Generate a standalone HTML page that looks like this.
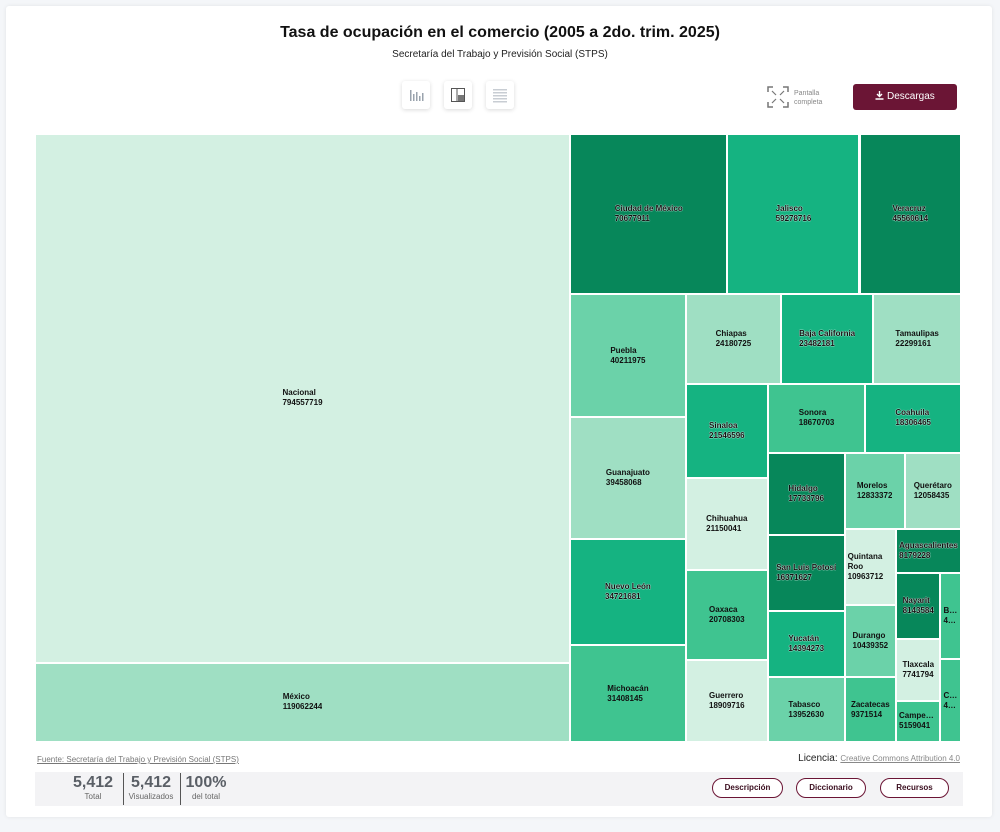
<!DOCTYPE html>
<html><head><meta charset="utf-8">
<style>
body{margin:0;width:1000px;height:832px;background:#f4f6f9;font-family:"Liberation Sans",sans-serif;overflow:hidden;position:relative}
.card{position:absolute;left:6px;top:6px;width:986px;height:811px;background:#fff;box-shadow:0 0 4px rgba(0,0,0,.08);border-radius:3px}
.abs{position:absolute}
.title{left:0;width:1000px;top:24px;text-align:center;font-weight:bold;font-size:16px;color:#111}
.sub{left:0;width:1000px;top:49px;text-align:center;font-size:10px;color:#222}
.ib{width:28px;height:28px;top:81px;background:#fff;box-shadow:0 1px 4px rgba(0,0,0,.15);border-radius:3px}
.dl{left:853px;top:84px;width:104px;height:26px;background:#6b1535;border-radius:3px;color:#fff;font-size:10px;text-align:center;line-height:26px}
#tm{position:absolute;left:35px;top:134px;width:926px;height:608px}
.cell{position:absolute;box-sizing:border-box;border:0.5px solid #fff;display:flex;align-items:center;justify-content:center;overflow:hidden}
.lbl{font-weight:bold;font-size:8px;line-height:10px;color:#111;text-align:left}
.lbl div{overflow:hidden;text-overflow:ellipsis}
.out{text-shadow:0 0 1px #fff,0 0 1px #fff}
.src{left:37px;top:755px;font-size:8px;color:#777;text-decoration:underline}
.lic{right:40px;top:753px;font-size:10px;color:#222}
.lic span{font-size:8px;color:#888;text-decoration:underline}
.bar{left:35px;top:772px;width:928px;height:34px;background:#f3f3f5}
.num{font-weight:bold;font-size:16px;color:#5a5f66;text-align:center}
.cap{font-size:8px;color:#666;text-align:center}
.pill{top:778px;height:20px;border:1px solid #6b1535;border-radius:10px;box-sizing:border-box;font-size:8px;font-weight:bold;color:#3a0d1e;text-align:center;line-height:18px;background:#fff}
</style></head>
<body>
<div class="card"></div>
<div class="abs title">Tasa de ocupación en el comercio (2005 a 2do. trim. 2025)</div>
<div class="abs sub">Secretaría del Trabajo y Previsión Social (STPS)</div>
<div class="abs ib" style="left:402px">
<svg width="28" height="28"><g fill="#9aa3ad"><rect x="8" y="9" width="1.5" height="11"/><rect x="11" y="13" width="1.5" height="7"/><rect x="14" y="11" width="1.5" height="9"/><rect x="17" y="15" width="1.5" height="5"/><rect x="20" y="12" width="1.5" height="8"/></g></svg></div>
<div class="abs ib" style="left:444px">
<svg width="28" height="28"><rect x="7.5" y="7.5" width="13" height="13" fill="none" stroke="#555"/><line x1="13" y1="7.5" x2="13" y2="20.5" stroke="#555"/><rect x="14" y="14" width="6" height="6" fill="#777"/></svg></div>
<div class="abs ib" style="left:486px">
<svg width="28" height="28"><g fill="#c8cdd3"><rect x="7" y="8" width="14" height="1.5"/><rect x="7" y="11" width="14" height="1.5"/><rect x="7" y="14" width="14" height="1.5"/><rect x="7" y="17" width="14" height="1.5"/><rect x="7" y="20" width="14" height="1.5"/></g></svg></div>
<div class="abs" style="left:767px;top:86px">
<svg width="22" height="22" fill="none" stroke="#777" stroke-width="1.5"><path d="M1 6V1h5M16 1h5v5M21 16v5h-5M6 21H1v-5"/><path d="M5 5l4 4M17 5l-4 4M5 17l4-4M17 17l-4-4" stroke-width="1.2"/></svg></div>
<div class="abs" style="left:794px;top:89px;font-size:7px;line-height:9px;color:#888">Pantalla<br>completa</div>
<div class="abs dl"><svg width="9" height="9" style="vertical-align:-1px"><path d="M4.5 0v5M2 3l2.5 2.5L7 3M0.5 8h8" stroke="#fff" stroke-width="1.4" fill="none"/></svg> Descargas</div>

<div id="tm"></div>

<div class="abs src">Fuente: Secretaría del Trabajo y Previsión Social (STPS)</div>
<div class="abs lic">Licencia: <span>Creative Commons Attribution 4.0</span></div>
<div class="abs bar"></div>
<div class="abs" style="left:66px;top:774px;width:54px"><div class="num">5,412</div><div class="cap">Total</div></div>
<div class="abs" style="left:123px;top:773px;width:1px;height:32px;background:#555"></div>
<div class="abs" style="left:124px;top:774px;width:54px"><div class="num">5,412</div><div class="cap">Visualizados</div></div>
<div class="abs" style="left:180px;top:773px;width:1px;height:32px;background:#555"></div>
<div class="abs" style="left:182px;top:774px;width:48px"><div class="num">100%</div><div class="cap">del total</div></div>
<div class="abs pill" style="left:712px;width:71px">Descripción</div>
<div class="abs pill" style="left:796px;width:70px">Diccionario</div>
<div class="abs pill" style="left:880px;width:69px">Recursos</div>

<script>
const names = ["Nacional","México","Ciudad de México","Jalisco","Veracruz","Puebla","Guanajuato","Nuevo León","Michoacán","Chiapas","Baja California","Tamaulipas","Sinaloa","Chihuahua","Oaxaca","Guerrero","Sonora","Coahuila","Hidalgo","San Luis Potosí","Yucatán","Tabasco","Morelos","Querétaro","Quintana Roo","Durango","Zacatecas","Aguascalientes","Nayarit","Tlaxcala","Campeche","Baja California Sur","Colima"];
const values = [794557719,119062244,70677911,59278716,45560614,40211975,39458068,34721681,31408145,24180725,23482181,22299161,21546596,21150041,20708303,18909716,18670703,18306465,17733796,16371627,14394273,13952630,12833372,12058435,10963712,10439352,9371514,8179228,8143584,7741794,5159041,4934000,4782000];
const colorLevels = [0,1,5,4,5,2,1,4,3,1,4,1,4,0,3,0,3,4,5,5,4,2,2,1,0,2,3,5,5,0,3,3,3];
const palette = ["#d3f0e2","#9fdfc3","#6bd2a9","#3fc490","#15b381","#07875a"];

const W=926,H=608;
function layout(vals){
  const total=vals.reduce((a,b)=>a+b,0);
  const out=[];
  const plot={x:0,y:0};
  const g={height:H,width:W,direction:0,total:0,nW:0,lW:0,nH:0,lH:0,el:[],lP:{}};
  const ar=(w,h)=>Math.max(w/h,h/w);
  function add(el){
    g.lP.total=g.el[g.el.length-1];
    g.total+=el;
    if(g.direction===0){
      g.lW=g.nW; g.lP.lH=g.lP.total/g.lW; g.lP.lR=ar(g.lW,g.lP.lH);
      g.nW=g.total/g.height; g.lP.nH=g.lP.total/g.nW; g.lP.nR=ar(g.nW,g.lP.nH);
    } else {
      g.lH=g.nH; g.lP.lW=g.lP.total/g.lH; g.lP.lR=ar(g.lP.lW,g.lH);
      g.nH=g.total/g.width; g.lP.nW=g.lP.total/g.nH; g.lP.nR=ar(g.lP.nW,g.nH);
    }
    g.el.push(el);
  }
  function calc(last){
    const end=g.el.length-1;
    let gW=g.lW,gH=g.lH,keep;
    if(last){gW=g.nW;gH=g.nH;} else keep=g.el[end];
    g.el.forEach((p,i)=>{
      if(last||i<end){
        let pw,ph;
        if(g.direction===0){pw=gW;ph=p/pw;} else {ph=gH;pw=p/ph;}
        out.push({x:plot.x,y:plot.y,w:pw,h:ph});
        if(g.direction===0) plot.y+=ph; else plot.x+=pw;
      }
    });
    g.nW=0;g.lW=0;g.el=[];g.total=0;
    if(g.direction===0) g.width-=gW; else g.height-=gH;
    plot.y=H-g.height; plot.x=W-g.width;
    g.direction=1-g.direction;
    if(!last) add(keep);
  }
  vals.forEach((v,i)=>{
    add(W*H*v/total);
    if(g.lP.nR>g.lP.lR) calc(false);
    if(i===vals.length-1) calc(true);
  });
  return out;
}
const rects=layout(values);
const tm=document.getElementById('tm');
rects.forEach((r,i)=>{
  const c=document.createElement('div');
  c.className='cell';
  
  
  c.style.left=r.x+'px';c.style.top=r.y+'px';c.style.width=r.w+'px';c.style.height=r.h+'px';
  const lvl=colorLevels[i];
  c.style.background=palette[lvl];
  const l=document.createElement('div');
  l.className='lbl'+(lvl>=4?' out':'');
  const mw=Math.max(r.w-6,8);
  l.style.maxWidth=mw+'px';
  const n=document.createElement('div');
  n.textContent=names[i];
  const hasSpace=names[i].indexOf(' ')>=0 && names[i].split(' ').every(w=>w.length*5<=mw);
  n.style.whiteSpace=hasSpace?'normal':'nowrap';
  const v=document.createElement('div');
  v.textContent=values[i];
  v.style.whiteSpace='nowrap';
  l.appendChild(n);l.appendChild(v);
  c.appendChild(l);
  tm.appendChild(c);
});
</script>
</body></html>
